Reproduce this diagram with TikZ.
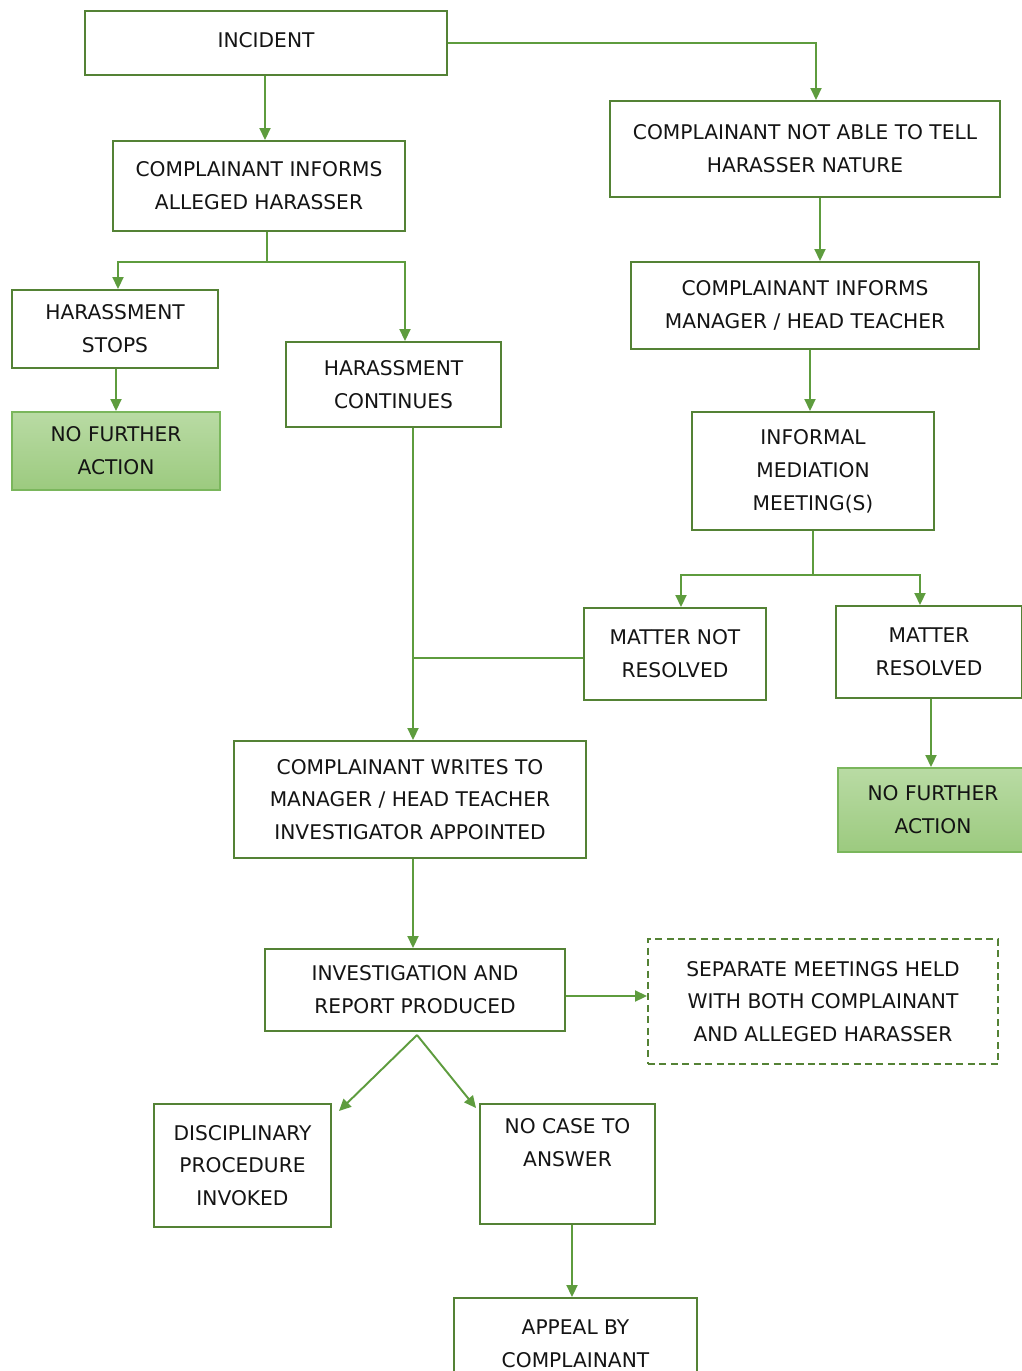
\documentclass[tikz,border=0pt]{standalone}
\usepackage{fontspec}
\setmainfont{DejaVu Sans}
\usepackage{tikz}
\usetikzlibrary{arrows.meta}
\definecolor{boxgreen}{HTML}{548235}
\definecolor{arrowgreen}{HTML}{5E9C3E}
\definecolor{nfatop}{HTML}{B9DBA4}
\definecolor{nfabottom}{HTML}{9CCA7F}
\definecolor{nfaline}{HTML}{7AB65C}
\tikzset{
x=0.02cm, y=-0.02cm, % one unit is one pixel of the sketch
box/.style={draw=boxgreen, line width=1.1pt, fill=white, align=center, text=black!92,
  font=\fontsize{11.5}{18.7}\selectfont, inner sep=0pt}, % every step of the procedure
sz/.style 2 args={minimum width=#1*0.02cm, minimum height=#2*0.02cm}, % box size in pixels
nfa/.style={box, draw=nfaline, top color=nfatop, bottom color=nfabottom}, % end of the road
maybe/.style={box, dashed, dash pattern=on 4pt off 2.5pt}, % optional step
arr/.style={draw=arrowgreen, line width=1.1pt, -{Triangle[length=0.24cm, width=0.22cm]}}, % directed edge
link/.style={draw=arrowgreen, line width=1.1pt}, % plain joining line
}
\begin{document}
\begin{tikzpicture}
\useasboundingbox (0,0) rectangle (1021,1371);
% left branch
\node[box, sz={362}{64}] (incident) at (266,43) {\raisebox{0.12cm}{INCIDENT}};
\node[box, sz={292}{90}] (informh) at (259,186) {COMPLAINANT INFORMS\\ALLEGED HARASSER};
\node[box, sz={206}{78}] (stops) at (115,329) {HARASSMENT\\STOPS};
\node[nfa, sz={208}{78}] (nfa1) at (116,451) {NO FURTHER\\ACTION};
\node[box, sz={215}{85}] (cont) at (393.5,384.5) {HARASSMENT\\CONTINUES};
% right branch
\node[box, sz={390}{96}] (notable) at (805,149) {COMPLAINANT NOT ABLE TO TELL\\HARASSER NATURE};
\node[box, sz={348}{87}] (informm) at (805,305.5) {COMPLAINANT INFORMS\\MANAGER / HEAD TEACHER};
\node[box, sz={242}{118}] (mediation) at (813,471) {INFORMAL\\MEDIATION\\MEETING(S)};
\node[box, sz={182}{92}] (notres) at (675,654) {MATTER NOT\\RESOLVED};
\node[box, sz={186}{92}] (resolved) at (929,652) {MATTER\\RESOLVED};
\node[nfa, sz={190}{84}] (nfa2) at (933,810) {NO FURTHER\\ACTION};
% formal part
\node[box, sz={352}{117}] (writes) at (410,799.5) {COMPLAINANT WRITES TO\\MANAGER / HEAD TEACHER\\INVESTIGATOR APPOINTED};
\node[box, sz={300}{82}] (invest) at (415,990) {INVESTIGATION AND\\REPORT PRODUCED};
\node[maybe, sz={350}{125}] (separate) at (823,1001.5) {SEPARATE MEETINGS HELD\\WITH BOTH COMPLAINANT\\AND ALLEGED HARASSER};
\node[box, sz={177}{123}] (disc) at (242.5,1165.5) {DISCIPLINARY\\PROCEDURE\\INVOKED};
\node[box, sz={175}{120}] (nocase) at (567.5,1164) {NO CASE TO\\ANSWER\\\strut};
\node[box, sz={243}{92}] (appeal) at (575.5,1344) {APPEAL BY\\COMPLAINANT};
% joints
\coordinate (j1) at (267,262);
\coordinate (j2) at (813,575);
\coordinate (j3) at (413,658);
\coordinate (j4) at (417,1035);
% edges
\draw[arr] ([xshift=-0.02cm]incident.south) -- ([xshift=-0.02cm]incident.south |- informh.north);
\draw[arr] (incident.east) -| ([xshift=0.22cm]notable.north);
\draw[link] (j1 |- informh.south) -- (j1);
\draw[arr] (j1) -| ([xshift=0.06cm]stops.north);
\draw[arr] (j1) -| ([xshift=0.23cm]cont.north);
\draw[arr] ([xshift=0.02cm]stops.south) -- ([xshift=0.02cm]stops.south |- nfa1.north);
\draw[arr] ([xshift=0.3cm]notable.south) -- ([xshift=0.3cm]notable.south |- informm.north);
\draw[arr] ([xshift=0.1cm]informm.south) -- ([xshift=0.1cm]informm.south |- mediation.north);
\draw[link] (j2 |- mediation.south) -- (j2);
\draw[arr] (j2) -| ([xshift=0.12cm]notres.north);
\draw[arr] (j2) -| ([xshift=-0.18cm]resolved.north);
\draw[arr] ([xshift=0.04cm]resolved.south) -- ([xshift=0.04cm]resolved.south |- nfa2.north);
\draw[arr] (j3 |- cont.south) -- (j3 |- writes.north);
\draw[link] ([yshift=-0.08cm]notres.west) -- ([yshift=-0.08cm]notres.west -| j3);
\draw[arr] (j3 |- writes.south) -- (j3 |- invest.north);
\draw[arr] ([yshift=-0.12cm]invest.east) -- ([yshift=-0.12cm]invest.east -| separate.west);
\draw[arr] (j4) -- ([shift={(0.14cm,-0.16cm)}]disc.north east);
\draw[arr] (j4) -- ([shift={(-0.06cm,-0.1cm)}]nocase.north west);
\draw[arr] ([xshift=0.09cm]nocase.south) -- ([xshift=0.09cm]nocase.south |- appeal.north);
\end{tikzpicture}
\end{document}
